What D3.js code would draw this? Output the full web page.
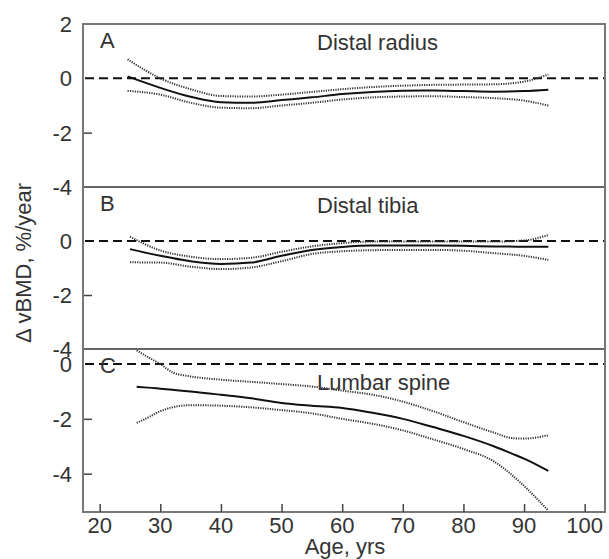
<!DOCTYPE html>
<html>
<head>
<meta charset="utf-8">
<script src="https://cdn.jsdelivr.net/npm/d3@7"></script>
<style>
  body { margin: 0; background: #fff; }
  text { font-family: "Liberation Sans", Arial, sans-serif; fill: #333; }
</style>
</head>
<body>
<div id="chart"></div>
<script>
/* CONSTANTS */
const width = 609,
  height = 559,
  margin = { top: 24, bottom: 47, left: 83, right: 4 };

const agesA = [24.6, 30, 35, 40, 45, 50, 55, 60, 65, 70, 75, 80, 85, 90, 94];
const meanA = [0.07, -0.35, -0.68, -0.88, -0.9, -0.8, -0.7, -0.58, -0.5, -0.46, -0.45, -0.47, -0.49, -0.47, -0.42];
const upperA = [0.7, 0.0, -0.4, -0.65, -0.67, -0.6, -0.5, -0.4, -0.32, -0.27, -0.24, -0.23, -0.22, -0.12, 0.14];
const lowerA = [-0.46, -0.6, -0.9, -1.08, -1.1, -1.0, -0.9, -0.78, -0.7, -0.67, -0.66, -0.69, -0.73, -0.82, -1.0];

const agesB = [25, 30, 35, 40, 45, 50, 55, 60, 65, 70, 75, 80, 85, 90, 94];
const meanB = [-0.3, -0.55, -0.75, -0.85, -0.8, -0.55, -0.33, -0.22, -0.17, -0.17, -0.17, -0.18, -0.2, -0.21, -0.21];
const upperB = [0.16, -0.35, -0.58, -0.67, -0.62, -0.4, -0.2, -0.08, -0.02, -0.02, -0.02, -0.02, -0.02, 0.02, 0.22];
const lowerB = [-0.79, -0.8, -0.95, -1.04, -0.98, -0.75, -0.48, -0.38, -0.34, -0.33, -0.33, -0.36, -0.45, -0.55, -0.7];

const agesC = [26.1, 28, 30, 32, 35, 40, 45, 50, 55, 60, 65, 70, 75, 80, 85, 88, 90, 94];
const meanC = [-0.83, -0.86, -0.9, -0.94, -1.0, -1.12, -1.25, -1.42, -1.52, -1.6, -1.78, -2.0, -2.3, -2.62, -3.0, -3.27, -3.45, -3.9];
const upperC = [0.5, 0.25, 0.0, -0.3, -0.45, -0.57, -0.65, -0.73, -0.82, -0.97, -1.12, -1.37, -1.72, -2.12, -2.5, -2.7, -2.72, -2.6];
const lowerC = [-2.15, -1.95, -1.72, -1.58, -1.5, -1.52, -1.58, -1.68, -1.8, -2.0, -2.18, -2.42, -2.75, -3.1, -3.55, -4.05, -4.45, -5.35];

const xTicks = [20, 30, 40, 50, 60, 70, 80, 90, 100];

const panels = [
  { letter: "A", title: "Distal radius", ages: agesA, mean: meanA, upper: upperA, lower: lowerA,
    domain: [-4, 2], top: 24, bottom: 187, labels: [2, 0, -2, -4], ticks: [-2] },
  { letter: "B", title: "Distal tibia", ages: agesB, mean: meanB, upper: upperB, lower: lowerB,
    domain: [-4, 2], top: 187, bottom: 349, labels: [0, -2, -4], ticks: [-2] },
  { letter: "C", title: "Lumbar spine", ages: agesC, mean: meanC, upper: upperC, lower: lowerC,
    domain: [-5.4, 0.55], top: 349, bottom: 512, labels: [0, -2, -4], ticks: [-2, -4] }
];

const svg = d3.select("#chart")
  .append("svg")
  .attr("width", width)
  .attr("height", height);

const xScale = d3.scaleLinear()
  .domain([17.25, 103.35])
  .range([margin.left, width - margin.right]);

svg.append("defs").append("clipPath")
  .attr("id", "plotClip")
  .append("rect")
  .attr("x", margin.left)
  .attr("y", margin.top)
  .attr("width", width - margin.right - margin.left)
  .attr("height", height - margin.bottom - margin.top);

panels.forEach(p => {
  const yScale = d3.scaleLinear()
    .domain(p.domain)
    .range([p.bottom, p.top]);

  const g = svg.append("g").attr("class", "panel");

  // zero reference line
  g.append("line")
    .attr("x1", margin.left + 2)
    .attr("x2", width - margin.right)
    .attr("y1", yScale(0))
    .attr("y2", yScale(0))
    .attr("stroke", "#111")
    .attr("stroke-width", 2)
    .attr("stroke-dasharray", "9,5");

  // y axis ticks + labels
  const yAxis = d3.axisRight(yScale)
    .tickValues(p.ticks)
    .tickSize(9)
    .tickFormat("");
  g.append("g")
    .attr("transform", `translate(${margin.left}, 0)`)
    .call(yAxis)
    .call(a => a.select(".domain").remove())
    .call(a => a.selectAll("line").attr("stroke", "#444").attr("stroke-width", 1.5));

  g.selectAll("text.ylab")
    .data(p.labels)
    .join("text")
    .attr("class", "ylab")
    .attr("x", 72)
    .attr("y", d => yScale(d))
    .attr("dy", "0.36em")
    .attr("text-anchor", "end")
    .attr("font-size", 22)
    .text(d => d < 0 ? "-" + Math.abs(d) : d);

  const line = d3.line()
    .x((d, i) => xScale(p.ages[i]))
    .y(d => yScale(d))
    .curve(d3.curveMonotoneX);

  const curves = g.append("g").attr("clip-path", "url(#plotClip)");
  [p.upper, p.lower].forEach(s => {
    curves.append("path")
      .datum(s)
      .attr("fill", "none")
      .attr("stroke", "#333")
      .attr("stroke-width", 2)
      .attr("stroke-dasharray", "1.2,1.2")
      .attr("d", line);
  });
  curves.append("path")
    .datum(p.mean)
    .attr("fill", "none")
    .attr("stroke", "#111")
    .attr("stroke-width", 2)
    .attr("d", line);

  g.append("text")
    .attr("x", 100)
    .attr("y", p.top + 24)
    .attr("font-size", 22)
    .text(p.letter);

  g.append("text")
    .attr("x", 317)
    .attr("y", p.top + (p.letter === "C" ? 41 : 26))
    .attr("font-size", 22)
    .text(p.title);

  // panel divider
  if (p.letter !== "A") {
    g.append("line")
      .attr("x1", margin.left)
      .attr("x2", width - margin.right)
      .attr("y1", p.top)
      .attr("y2", p.top)
      .attr("stroke", "#666")
      .attr("stroke-width", 2);
  }
});

// outer frame
svg.append("rect")
  .attr("x", margin.left)
  .attr("y", margin.top)
  .attr("width", width - margin.right - margin.left)
  .attr("height", height - margin.bottom - margin.top)
  .attr("fill", "none")
  .attr("stroke", "#777")
  .attr("stroke-width", 2);

// x axis: inward ticks
const xAxis = d3.axisTop(xScale)
  .tickValues(xTicks)
  .tickSize(8)
  .tickFormat("");
svg.append("g")
  .attr("transform", `translate(0, ${height - margin.bottom})`)
  .call(xAxis)
  .call(a => a.select(".domain").remove())
  .call(a => a.selectAll("line").attr("stroke", "#444").attr("stroke-width", 1.5));

svg.selectAll("text.xlab")
  .data(xTicks)
  .join("text")
  .attr("class", "xlab")
  .attr("x", d => xScale(d))
  .attr("y", 533)
  .attr("text-anchor", "middle")
  .attr("font-size", 22)
  .text(d => d);

svg.append("text")
  .attr("x", 345)
  .attr("y", 554)
  .attr("text-anchor", "middle")
  .attr("font-size", 22)
  .text("Age, yrs");

svg.append("text")
  .attr("transform", `translate(31, 263) rotate(-90)`)
  .attr("text-anchor", "middle")
  .attr("font-size", 22)
  .text("\u0394 vBMD, %/year");
</script>
</body>
</html>
